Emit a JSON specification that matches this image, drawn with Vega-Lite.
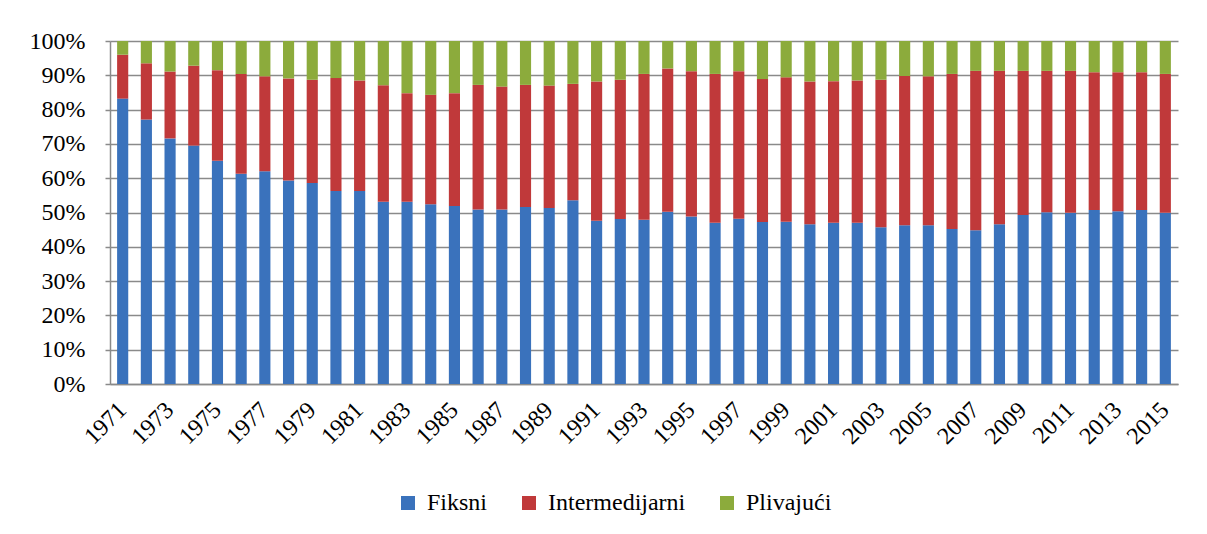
{
  "$schema": "https://vega.github.io/schema/vega-lite/v6.json",
  "width": 1068,
  "height": 343,
  "autosize": {"type": "none"},
  "padding": {"left": 110, "top": 41, "right": 29, "bottom": 150},
  "background": "white",
  "data": {"values": [
    {"g":"1971","t":"Fiksni","v":83.2},{"g":"1971","t":"Intermedijarni","v":12.8},{"g":"1971","t":"Plivajući","v":4.0},
    {"g":"1972","t":"Fiksni","v":77.1},{"g":"1972","t":"Intermedijarni","v":16.4},{"g":"1972","t":"Plivajući","v":6.5},
    {"g":"1973","t":"Fiksni","v":71.6},{"g":"1973","t":"Intermedijarni","v":19.5},{"g":"1973","t":"Plivajući","v":8.9},
    {"g":"1974","t":"Fiksni","v":69.5},{"g":"1974","t":"Intermedijarni","v":23.3},{"g":"1974","t":"Plivajući","v":7.2},
    {"g":"1975","t":"Fiksni","v":65.1},{"g":"1975","t":"Intermedijarni","v":26.4},{"g":"1975","t":"Plivajući","v":8.5},
    {"g":"1976","t":"Fiksni","v":61.3},{"g":"1976","t":"Intermedijarni","v":29.1},{"g":"1976","t":"Plivajući","v":9.6},
    {"g":"1977","t":"Fiksni","v":62.0},{"g":"1977","t":"Intermedijarni","v":27.7},{"g":"1977","t":"Plivajući","v":10.3},
    {"g":"1978","t":"Fiksni","v":59.3},{"g":"1978","t":"Intermedijarni","v":29.8},{"g":"1978","t":"Plivajući","v":10.9},
    {"g":"1979","t":"Fiksni","v":58.6},{"g":"1979","t":"Intermedijarni","v":30.1},{"g":"1979","t":"Plivajući","v":11.3},
    {"g":"1980","t":"Fiksni","v":56.3},{"g":"1980","t":"Intermedijarni","v":32.9},{"g":"1980","t":"Plivajući","v":10.8},
    {"g":"1981","t":"Fiksni","v":56.3},{"g":"1981","t":"Intermedijarni","v":32.2},{"g":"1981","t":"Plivajući","v":11.5},
    {"g":"1982","t":"Fiksni","v":53.1},{"g":"1982","t":"Intermedijarni","v":34.0},{"g":"1982","t":"Plivajući","v":12.9},
    {"g":"1983","t":"Fiksni","v":53.1},{"g":"1983","t":"Intermedijarni","v":31.7},{"g":"1983","t":"Plivajući","v":15.2},
    {"g":"1984","t":"Fiksni","v":52.4},{"g":"1984","t":"Intermedijarni","v":31.9},{"g":"1984","t":"Plivajući","v":15.7},
    {"g":"1985","t":"Fiksni","v":51.9},{"g":"1985","t":"Intermedijarni","v":32.9},{"g":"1985","t":"Plivajući","v":15.2},
    {"g":"1986","t":"Fiksni","v":50.9},{"g":"1986","t":"Intermedijarni","v":36.3},{"g":"1986","t":"Plivajući","v":12.8},
    {"g":"1987","t":"Fiksni","v":50.9},{"g":"1987","t":"Intermedijarni","v":35.8},{"g":"1987","t":"Plivajući","v":13.3},
    {"g":"1988","t":"Fiksni","v":51.6},{"g":"1988","t":"Intermedijarni","v":35.6},{"g":"1988","t":"Plivajući","v":12.8},
    {"g":"1989","t":"Fiksni","v":51.3},{"g":"1989","t":"Intermedijarni","v":35.7},{"g":"1989","t":"Plivajući","v":13.0},
    {"g":"1990","t":"Fiksni","v":53.6},{"g":"1990","t":"Intermedijarni","v":33.9},{"g":"1990","t":"Plivajući","v":12.5},
    {"g":"1991","t":"Fiksni","v":47.6},{"g":"1991","t":"Intermedijarni","v":40.6},{"g":"1991","t":"Plivajući","v":11.8},
    {"g":"1992","t":"Fiksni","v":48.1},{"g":"1992","t":"Intermedijarni","v":40.6},{"g":"1992","t":"Plivajući","v":11.3},
    {"g":"1993","t":"Fiksni","v":47.9},{"g":"1993","t":"Intermedijarni","v":42.5},{"g":"1993","t":"Plivajući","v":9.6},
    {"g":"1994","t":"Fiksni","v":50.2},{"g":"1994","t":"Intermedijarni","v":41.8},{"g":"1994","t":"Plivajući","v":8.0},
    {"g":"1995","t":"Fiksni","v":48.8},{"g":"1995","t":"Intermedijarni","v":42.4},{"g":"1995","t":"Plivajući","v":8.8},
    {"g":"1996","t":"Fiksni","v":47.0},{"g":"1996","t":"Intermedijarni","v":43.4},{"g":"1996","t":"Plivajući","v":9.6},
    {"g":"1997","t":"Fiksni","v":48.2},{"g":"1997","t":"Intermedijarni","v":43.0},{"g":"1997","t":"Plivajući","v":8.8},
    {"g":"1998","t":"Fiksni","v":47.2},{"g":"1998","t":"Intermedijarni","v":41.7},{"g":"1998","t":"Plivajući","v":11.1},
    {"g":"1999","t":"Fiksni","v":47.3},{"g":"1999","t":"Intermedijarni","v":42.1},{"g":"1999","t":"Plivajući","v":10.6},
    {"g":"2000","t":"Fiksni","v":46.6},{"g":"2000","t":"Intermedijarni","v":41.6},{"g":"2000","t":"Plivajući","v":11.8},
    {"g":"2001","t":"Fiksni","v":47.0},{"g":"2001","t":"Intermedijarni","v":41.3},{"g":"2001","t":"Plivajući","v":11.7},
    {"g":"2002","t":"Fiksni","v":47.0},{"g":"2002","t":"Intermedijarni","v":41.5},{"g":"2002","t":"Plivajući","v":11.5},
    {"g":"2003","t":"Fiksni","v":45.7},{"g":"2003","t":"Intermedijarni","v":43.0},{"g":"2003","t":"Plivajući","v":11.3},
    {"g":"2004","t":"Fiksni","v":46.3},{"g":"2004","t":"Intermedijarni","v":43.5},{"g":"2004","t":"Plivajući","v":10.2},
    {"g":"2005","t":"Fiksni","v":46.3},{"g":"2005","t":"Intermedijarni","v":43.4},{"g":"2005","t":"Plivajući","v":10.3},
    {"g":"2006","t":"Fiksni","v":45.2},{"g":"2006","t":"Intermedijarni","v":45.2},{"g":"2006","t":"Plivajući","v":9.6},
    {"g":"2007","t":"Fiksni","v":44.8},{"g":"2007","t":"Intermedijarni","v":46.5},{"g":"2007","t":"Plivajući","v":8.7},
    {"g":"2008","t":"Fiksni","v":46.6},{"g":"2008","t":"Intermedijarni","v":44.7},{"g":"2008","t":"Plivajući","v":8.7},
    {"g":"2009","t":"Fiksni","v":49.3},{"g":"2009","t":"Intermedijarni","v":42.0},{"g":"2009","t":"Plivajući","v":8.7},
    {"g":"2010","t":"Fiksni","v":50.1},{"g":"2010","t":"Intermedijarni","v":41.2},{"g":"2010","t":"Plivajući","v":8.7},
    {"g":"2011","t":"Fiksni","v":49.9},{"g":"2011","t":"Intermedijarni","v":41.4},{"g":"2011","t":"Plivajući","v":8.7},
    {"g":"2012","t":"Fiksni","v":50.7},{"g":"2012","t":"Intermedijarni","v":40.2},{"g":"2012","t":"Plivajući","v":9.1},
    {"g":"2013","t":"Fiksni","v":50.4},{"g":"2013","t":"Intermedijarni","v":40.5},{"g":"2013","t":"Plivajući","v":9.1},
    {"g":"2014","t":"Fiksni","v":50.7},{"g":"2014","t":"Intermedijarni","v":40.2},{"g":"2014","t":"Plivajući","v":9.1},
    {"g":"2015","t":"Fiksni","v":49.9},{"g":"2015","t":"Intermedijarni","v":40.5},{"g":"2015","t":"Plivajući","v":9.6}
  ]},
  "mark": {"type": "bar"},
  "encoding": {
    "x": {
      "field": "g", "type": "nominal", "sort": null,
      "scale": {"paddingInner": 0.53, "paddingOuter": 0.3},
      "axis": {
        "title": null,
        "values": ["1971","1973","1975","1977","1979","1981","1983","1985","1987","1989","1991","1993","1995","1997","1999","2001","2003","2005","2007","2009","2011","2013","2015"],
        "labelAngle": -45,
        "labelAlign": "right",
        "labelBaseline": "middle",
        "labelColor": "#000000",
        "labelFont": "Liberation Serif",
        "labelFontSize": 24,
        "labelPadding": 22,
        "ticks": false,
        "domainColor": "#8a8a8a",
        "domainWidth": 1.5
      }
    },
    "y": {
      "field": "v", "type": "quantitative", "stack": "normalize",
      "scale": {"domain": [0, 1]},
      "axis": {
        "title": null,
        "format": ".0%",
        "values": [0, 0.1, 0.2, 0.3, 0.4, 0.5, 0.6, 0.7, 0.8, 0.9, 1],
        "labelColor": "#000000",
        "labelFont": "Liberation Serif",
        "labelFontSize": 24,
        "labelPadding": 20,
        "tickSize": 5,
        "tickColor": "#8a8a8a",
        "tickWidth": 1.5,
        "domainColor": "#8a8a8a",
        "domainWidth": 1.5,
        "grid": true,
        "gridColor": "#8a8a8a",
        "gridWidth": 1.5
      }
    },
    "color": {
      "field": "t", "type": "nominal",
      "scale": {"domain": ["Fiksni", "Intermedijarni", "Plivajući"], "range": ["#3a72bc", "#c0393a", "#8cab3c"]},
      "legend": {
        "title": null,
        "orient": "none",
        "legendX": 286,
        "legendY": 450,
        "direction": "horizontal",
        "symbolType": "square",
        "symbolSize": 196,
        "symbolStrokeWidth": 0,
        "labelColor": "#000000",
        "labelFont": "Liberation Serif",
        "labelFontSize": 24,
        "labelOffset": 7,
        "columnPadding": 29,
        "padding": 0
      }
    },
    "order": {"field": "t", "type": "nominal", "sort": "ascending"}
  },
  "config": {
    "view": {"stroke": null},
    "font": "Liberation Serif"
  }
}
